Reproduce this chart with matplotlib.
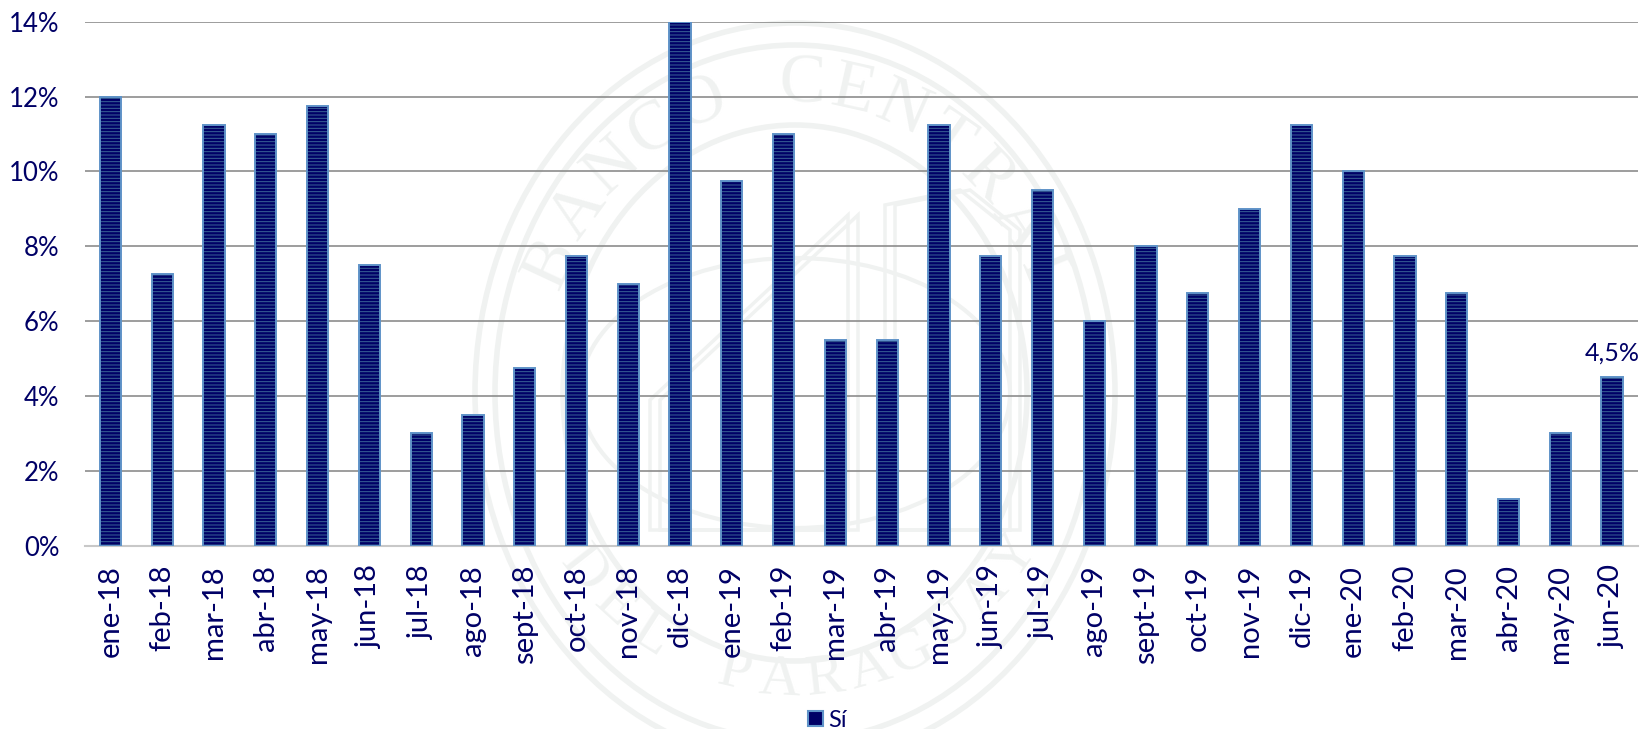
import numpy as np
import matplotlib
matplotlib.use('Agg')
import matplotlib.pyplot as plt
from matplotlib.patches import Ellipse, Rectangle, Polygon

# datos
meses = ['ene-18', 'feb-18', 'mar-18', 'abr-18', 'may-18', 'jun-18', 'jul-18', 'ago-18', 'sept-18', 'oct-18',
         'nov-18', 'dic-18', 'ene-19', 'feb-19', 'mar-19', 'abr-19', 'may-19', 'jun-19', 'jul-19', 'ago-19',
         'sept-19', 'oct-19', 'nov-19', 'dic-19', 'ene-20', 'feb-20', 'mar-20', 'abr-20', 'may-20', 'jun-20']
si = [12, 7.25, 11.25, 11, 11.75, 7.5, 3, 3.5, 4.75, 7.75,
      7, 14, 9.75, 11, 5.5, 5.5, 11.25, 7.75, 9.5, 6,
      8, 6.75, 9, 11.25, 10, 7.75, 6.75, 1.25, 3, 4.5]
y_ticks = [0, 2, 4, 6, 8, 10, 12, 14]

AZUL = '#000066'
W, H = 1642, 729

plt.rcParams['font.family'] = ['Lato', 'DejaVu Sans']
plt.rcParams['hatch.linewidth'] = 0.7

fig = plt.figure(figsize=(W / 100, H / 100), dpi=100)

# marca de agua (coordenadas en pixeles)
bg = fig.add_axes([0, 0, 1, 1], zorder=0)
bg.set_xlim(0, W)
bg.set_ylim(H, 0)
bg.axis('off')
cx, cy = 795, 393
gris = '#f0f2f1'
for a, b, lw in [(320, 370, 4), (300, 348, 4), (232, 268, 4), (215, 135, 3)]:
    bg.add_patch(Ellipse((cx, cy), 2 * a, 2 * b, fill=False, ec=gris, lw=lw))


def texto_arco(txt, ry, size, a0, a1, abajo=False):
    # letras sueltas sobre la elipse
    for ch, ang in zip(txt, np.linspace(a0, a1, len(txt))):
        t = np.radians(ang)
        bg.text(cx + 268 * np.cos(t), cy - ry * np.sin(t), ch, fontsize=size, color=gris,
                family='Liberation Serif', ha='center', va='center',
                rotation=ang + 90 if abajo else ang - 90)


texto_arco('BANCO CENTRAL', 308, 50, 155, 22)
texto_arco('DEL PARAGUAY', 288, 42, 218, 325, abajo=True)
for dx in (0, 10):
    bg.add_patch(Polygon([(650 + dx, 530), (650 + dx, 400), (848 + dx, 215), (848 + dx, 530)],
                         fill=False, ec=gris, lw=2.5))
    bg.add_patch(Polygon([(885 + dx, 530), (885 + dx, 205), (960 + dx, 190), (1010 + dx, 230), (1010 + dx, 530)],
                         fill=False, ec=gris, lw=2.5))

ax = fig.add_axes([84.6 / W, 1 - 545.5 / H, (1638 - 84.6) / W, (545.5 - 21.7) / H], zorder=1)
ax.patch.set_alpha(0)
x = np.arange(len(meses))

# rayas y borde por separado para que tengan distinto color
ax.bar(x, si, width=0.41, color=AZUL, edgecolor='#3a6496', hatch='-----', linewidth=0, zorder=3)
ax.bar(x, si, width=0.41, fill=False, edgecolor='#5f93c8', linewidth=1.4, zorder=4)

ax.set_xlim(-0.5, len(meses) - 0.5)
ax.set_ylim(0, 14)
ax.set_yticks(y_ticks)
ax.set_yticklabels([f'{v}%' for v in y_ticks])
ax.set_xticks(x)
ax.set_xticklabels(meses, rotation=90)
ax.tick_params(axis='both', length=0, labelcolor=AZUL)
ax.tick_params(axis='x', pad=14, labelsize=21)
ax.tick_params(axis='y', pad=18, labelsize=18.5)
ax.grid(axis='y', color='#8c8c8c', lw=1.2, zorder=1)
ax.set_axisbelow(True)
for s in ['top', 'right', 'left']:
    ax.spines[s].set_visible(False)
ax.spines['bottom'].set_color('#c8c8c8')
ax.spines['bottom'].set_linewidth(1.5)

ax.annotate('4,5%', (x[-1], si[-1]), xytext=(0, 12), textcoords='offset points',
            ha='center', va='baseline', fontsize=18, color=AZUL)

# leyenda
ley = fig.add_axes([0, 0, 1, 1], zorder=2)
ley.set_xlim(0, W)
ley.set_ylim(H, 0)
ley.axis('off')
ley.add_patch(Rectangle((808, 711), 15, 15, fc=AZUL, ec='#5f93c8', lw=1.5))
ley.text(828, 727, 'Sí', fontsize=17, color=AZUL, ha='left', va='baseline')

fig.savefig('out.png', dpi=100)
